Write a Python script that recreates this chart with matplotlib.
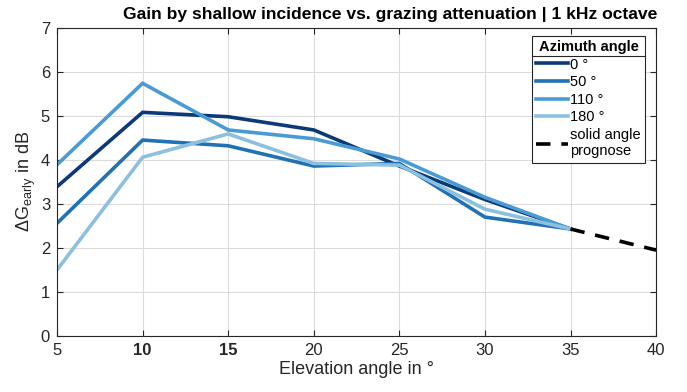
import matplotlib.pyplot as plt
import numpy as np
from matplotlib.lines import Line2D

plt.rcParams['font.family'] = ['Liberation Sans', 'DejaVu Sans']
plt.rcParams['mathtext.fontset'] = 'custom'
plt.rcParams['mathtext.rm'] = 'Liberation Sans'
plt.rcParams['mathtext.it'] = 'Liberation Sans'

elevation = [5, 10, 15, 20, 25, 30, 35]
gain_0 = [3.39, 5.08, 4.98, 4.68, 3.86, 3.10, 2.43]
gain_50 = [2.56, 4.45, 4.32, 3.86, 3.92, 2.70, 2.43]
gain_110 = [3.89, 5.74, 4.68, 4.48, 4.02, 3.15, 2.43]
gain_180 = [1.50, 4.06, 4.59, 3.92, 3.88, 2.88, 2.43]
prog_elev = [35, 40]
prog_gain = [2.43, 1.95]

labels = ['0 °', '50 °', '110 °', '180 °']
colors = ['#0c3a78', '#2171b5', '#4a9bd3', '#8cc0e0']
xticks = [5, 10, 15, 20, 25, 30, 35, 40]

fig = plt.figure(figsize=(6.87, 3.92), dpi=100)
ax = fig.add_axes([0.083, 0.143, 0.872, 0.786])

for g, lab, c in zip([gain_0, gain_50, gain_110, gain_180], labels, colors):
    ax.plot(elevation, g, color=c, lw=2.6, label=lab, solid_joinstyle='miter')
ax.plot(prog_elev, prog_gain, color='black', lw=2.6, ls=(0, (4, 3)),
        label='solid angle\nprognose')

ax.set_xlim(5, 40)
ax.set_ylim(0, 7)
ax.set_xticks(xticks)
ax.set_yticks(range(8))
ax.grid(True, color='#dcdcdc', lw=0.8)
ax.set_axisbelow(True)
ax.tick_params(direction='in', length=4, colors='#262626', labelsize=12,
               top=True, right=True, pad=5)
for lbl in ax.get_xticklabels():
    if lbl.get_text() in ('10', '15'):
        lbl.set_fontweight('bold')
for s in ax.spines.values():
    s.set_color('#262626')
    s.set_linewidth(0.8)

ax.set_xlabel('Elevation angle in °', fontsize=13, color='#262626', labelpad=2)
ax.set_ylabel(r'$\Delta$G$_{\mathrm{early}}$ in dB', fontsize=13, color='#262626', labelpad=2)
ax.set_title('Gain by shallow incidence vs. grazing attenuation | 1 kHz octave',
             fontsize=12.6, fontweight='bold', pad=6, x=0.556)

leg = ax.legend(loc='upper right', bbox_to_anchor=(0.982, 0.975), fontsize=10.5,
                title='Azimuth angle', title_fontproperties={'weight': 'bold', 'size': 10.5},
                fancybox=False, edgecolor='#262626', framealpha=1, handlelength=2.2,
                handletextpad=0.15, labelspacing=0.25, borderpad=0.3, borderaxespad=0)
leg.get_frame().set_linewidth(0.8)

fig.canvas.draw()
r = fig.canvas.get_renderer()
fb = leg.get_frame().get_window_extent(r)
tb = leg.get_title().get_window_extent(r)
ysep = tb.y0 - 2
inv = fig.transFigure.inverted()
(x0, y0), (x1, _) = inv.transform([(fb.x0, ysep), (fb.x1, ysep)])
fig.add_artist(Line2D([x0, x1], [y0, y0], color='#262626', lw=0.8, transform=fig.transFigure))

fig.savefig('out.png', dpi=100)
